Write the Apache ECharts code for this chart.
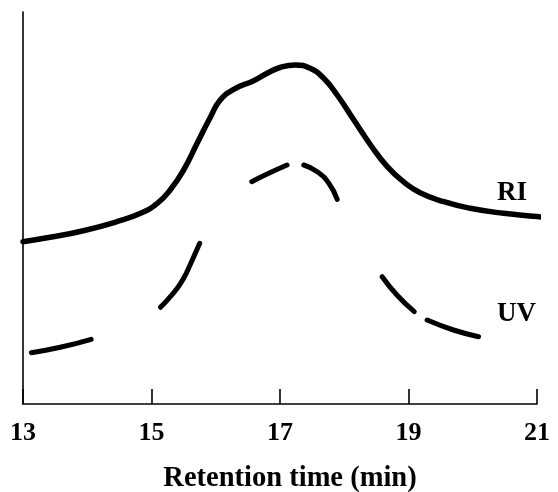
<!DOCTYPE html>
<html>
<head>
<meta charset="utf-8">
<script src="https://cdn.jsdelivr.net/npm/echarts@6/dist/echarts.min.js"></script>
<style>
html,body{margin:0;padding:0;background:#fff;}
#chart{width:558px;height:492px;}
</style>
</head>
<body>
<div id="chart"></div>
<script>
// Retention time (min) tick labels
var xTicks = [13, 15, 17, 19, 21];

// RI trace (solid line): retention time and detector response (arbitrary units)
var riX = [13.00, 13.42, 13.94, 14.46, 14.83, 15.09, 15.29, 15.50, 15.71, 15.92, 16.07, 16.28, 16.59, 16.80, 17.00, 17.24, 17.47, 17.68, 17.89, 18.15, 18.41, 18.67, 18.92, 19.18, 19.55, 19.96, 20.48, 21.00, 21.09];
var riY = [162.3, 166.7, 173.3, 182.3, 190.7, 200.7, 214.0, 234.0, 260.7, 287.3, 304.0, 314.7, 323.3, 330.7, 336.5, 339.0, 335.7, 325.7, 309.0, 284.0, 259.0, 237.3, 222.3, 211.3, 202.3, 195.7, 190.7, 187.5, 186.7];

// UV trace (dashed line): null marks a gap between dashes
var uvX = [13.13, 13.58, 14.06, 14.6, 15.14, 15.27, 15.40, 15.50, 15.60, 15.75, 16.2, 16.56, 16.80, 17.11, 17.24, 17.37, 17.58, 17.76, 17.89, 18.2, 18.59, 18.82, 19.09, 19.19, 19.29, 19.70, 20.09];
var uvY = [51.3, 56.7, 64.7, null, 96.7, 105.7, 115.7, 125.7, 139.0, 160.7, null, 222.3, 230.0, 239.0, null, 239.0, 232.3, 220.7, 204.7, null, 127.3, 109.0, 92.3, null, 84.0, 74.0, 67.3];

// Trace names
var traceNames = ['RI', 'UV'];
var xTitle = 'Retention time (min)';

var font = '"Liberation Serif", "Times New Roman", serif';
var chart = echarts.init(document.getElementById('chart'));
chart.setOption({
  animation: false,
  backgroundColor: '#ffffff',
  grid: {left: 23, right: 21, top: 12, bottom: 88, containLabel: false, outerBoundsMode: 'none'},
  xAxis: {
    type: 'value',
    min: xTicks[0],
    max: xTicks[xTicks.length - 1],
    interval: 2,
    name: xTitle,
    nameLocation: 'middle',
    nameGap: 60,
    nameTextStyle: {fontFamily: font, fontWeight: 'bold', fontSize: 28.5, color: '#000', padding: [0, 0, 0, 20]},
    axisLine: {show: true, onZero: false, lineStyle: {color: '#000', width: 1.6}},
    axisTick: {show: true, inside: true, length: 15, lineStyle: {color: '#000', width: 1.6}},
    axisLabel: {show: true, margin: 16, fontFamily: font, fontWeight: 'bold', fontSize: 26, color: '#000'},
    splitLine: {show: false}
  },
  yAxis: {
    type: 'value',
    min: 0,
    max: 392,
    axisLine: {show: true, onZero: false, lineStyle: {color: '#000', width: 1.6}},
    axisTick: {show: false},
    axisLabel: {show: false},
    splitLine: {show: false}
  },
  series: [
    {
      name: traceNames[0],
      type: 'line',
      data: riX.map(function (x, i) { return [x, riY[i]]; }),
      smooth: 0.5,
      symbol: 'none',
      clip: false,
      lineStyle: {color: '#000', width: 5.5, cap: 'round', join: 'round'}
    },
    {
      name: traceNames[1],
      type: 'line',
      data: uvX.map(function (x, i) { return [x, uvY[i] === null ? '-' : uvY[i]]; }),
      smooth: 0.5,
      connectNulls: false,
      symbol: 'none',
      lineStyle: {color: '#000', width: 5, cap: 'round', join: 'round'}
    }
  ],
  graphic: [
    {type: 'text', left: 497, top: 180, style: {text: traceNames[0], font: 'bold 27px ' + font, fill: '#000'}},
    {type: 'text', left: 497, top: 301, style: {text: traceNames[1], font: 'bold 27px ' + font, fill: '#000'}}
  ]
});
</script>
</body>
</html>
